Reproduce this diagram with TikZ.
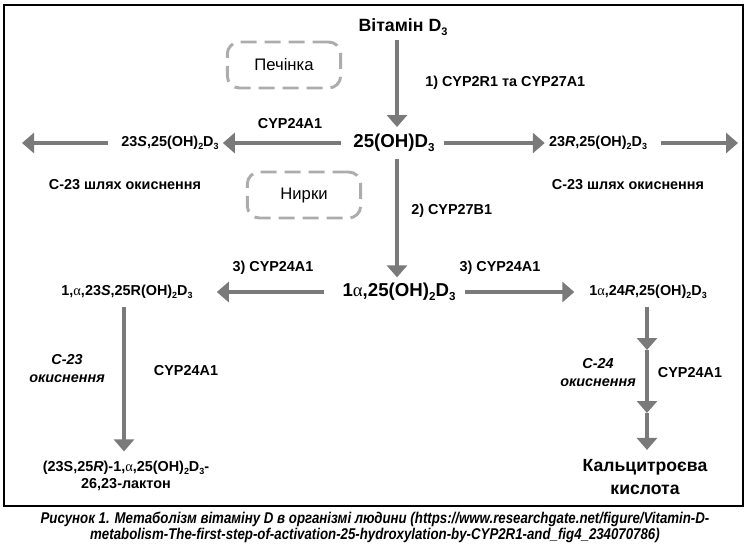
\documentclass[tikz,border=0pt]{standalone}
\usepackage{graphicx}
\usepackage{fontspec}
\setmainfont{Liberation Sans}
\newfontfamily\grfont{Liberation Serif}
\newfontfamily\capfont[FakeStretch=0.85]{Liberation Sans}
\usetikzlibrary{arrows.meta}
\definecolor{arrowgray}{RGB}{122,122,122}
\definecolor{boxgray}{RGB}{172,172,172}
\newcommand{\alf}{{\grfont\mdseries α}}
\newcommand{\sub}[1]{\raisebox{-0.45ex}{\scalebox{0.62}{#1}}}

\begin{document}
\begin{tikzpicture}[x=0.75pt,y=0.75pt,yscale=-1,xscale=1,
  flow/.style={draw=arrowgray, line width=2.6pt, -{Triangle[width=15pt,length=9pt]}},
  organ/.style={draw=boxgray, line width=2.2pt, dash pattern=on 12pt off 6pt, rounded corners=9pt, minimum width=85pt, minimum height=34.5pt, font=\fontsize{12.5}{14}\selectfont},
  lbl/.style={inner sep=0pt, font=\bfseries\fontsize{10.8}{13}\selectfont},
  big/.style={inner sep=0pt, font=\bfseries\fontsize{14}{16}\selectfont},
  note/.style={inner sep=0pt, align=center, font=\bfseries\itshape\fontsize{10.8}{13.5}\selectfont}]
\useasboundingbox (0,0) rectangle (749,547);

%Shape: Frame
\draw [line width=0.9pt] (4,5) rectangle (743,506);

% Organ boxes
\node [organ] (liver) at (284,65) {Печінка};
\node [organ] (kidney) at (304,195) {Нирки};

% Text Node
\node [big, font=\bfseries\fontsize{13.3}{15}\selectfont] (vitD) at (403,27) {Вітамін D\sub{3}};
% Text Node
\node [big] (n25) at (394,143) {25(OH)D\sub{3}};
% Text Node
\node [lbl] (n23S) at (170,143) {23\textit{S},25(OH)\sub{2}D\sub{3}};
% Text Node
\node [lbl] (n23R) at (598,143) {23\textit{R},25(OH)\sub{2}D\sub{3}};
% Text Node
\node [big] (n1a25) at (399,292) {1\alf,25(OH)\sub{2}D\sub{3}};
% Text Node
\node [lbl] (n23S25R) at (127,292) {1,\alf,23\textit{S},25R(OH)\sub{2}D\sub{3}};
% Text Node
\node [lbl] (n24R) at (648,292) {1\alf,24\textit{R},25(OH)\sub{2}D\sub{3}};
% Text Node
\node [lbl, align=center] (lactone) at (126,476) {(23S,25\textit{R})-1,\alf,25(OH)\sub{2}D\sub{3}-\\26,23-лактон};
% Text Node
\node [big, align=center, font=\bfseries\fontsize{13.2}{17}\selectfont] (acid) at (645,477) {Кальцитроєва\\кислота};

% Free ends
\coordinate (mid) at (397,0);
\coordinate (outS) at (22,143);
\coordinate (outR) at (738,143);
\coordinate (c24a) at (647,350);
\coordinate (c24b) at (647,413);

% Arrows
\draw [flow] ([yshift=3]vitD.south -| mid) -- ([yshift=-5]n25.north -| mid);
\draw [flow, shorten <=5pt, shorten >=4pt] (n25.south -| mid) -- (n1a25.north -| mid);
\draw [flow, shorten <=9pt, shorten >=3pt] (n25.west) -- (n23S.east);
\draw [flow, shorten <=10pt] (n23S.west) -- (outS);
\draw [flow, shorten <=7pt, shorten >=3pt] (n25.east) -- (n23R.west);
\draw [flow, shorten <=10pt] (n23R.east) -- (outR);
\draw [flow, shorten <=14pt, shorten >=18pt] (n1a25.west) -- (n23S25R.east);
\draw [flow, shorten <=7pt, shorten >=11pt] (n1a25.east) -- (n24R.west);
\draw [flow, shorten <=6pt, shorten >=7pt] (n23S25R.south -| 124,0) -- (lactone.north -| 124,0);
\draw [flow, shorten <=6pt] (n24R.south -| c24a) -- (c24a);
\draw [flow] (c24a) -- (c24b);
\draw [flow, shorten >=7pt] (c24b) -- (acid.north -| c24a);

% Text Node
\node [lbl, anchor=west] (e1) at (425,83) {1) CYP2R1 та CYP27A1};
% Text Node
\node [lbl] (e24a) at (290,124) {CYP24A1};
% Text Node
\node [lbl, anchor=west] (e2) at (411,211) {2) CYP27B1};
% Text Node
\node [lbl] (e3L) at (273,268) {3) CYP24A1};
% Text Node
\node [lbl] (e3R) at (500,268) {3) CYP24A1};
% Text Node
\node [lbl] (e24b) at (186,371) {CYP24A1};
% Text Node
\node [lbl] (e24c) at (690,373) {CYP24A1};
% Text Node
\node [lbl] (ox23L) at (125,185) {С-23 шлях окиснення};
% Text Node
\node [lbl] (ox23R) at (628,185) {С-23 шлях окиснення};
% Text Node
\node [note] (ox23) at (67,369) {С-23\\окиснення};
% Text Node
\node [note] (ox24) at (598,373) {С-24\\окиснення};

% Caption
\node [inner sep=0pt, align=center, font=\capfont\bfseries\itshape\fontsize{11.7}{12}\selectfont] (caption) at (375,527) {Рисунок 1. Метаболізм вітаміну D в організмі людини (https://www.researchgate.net/figure/Vitamin-D-\\metabolism-The-first-step-of-activation-25-hydroxylation-by-CYP2R1-and\_fig4\_234070786)};

\end{tikzpicture}
\end{document}
